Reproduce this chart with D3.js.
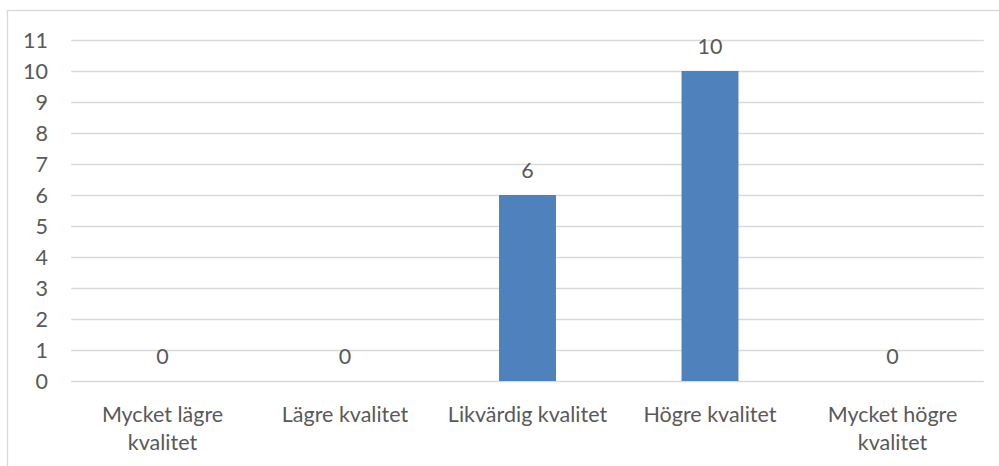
<!DOCTYPE html>
<html>
<head>
<meta charset="utf-8">
<script src="https://cdn.jsdelivr.net/npm/d3@7"></script>
<style>
  html, body { margin: 0; padding: 0; background: #ffffff; }
  svg { display: block; }
  text { font-family: Lato, "Noto Sans", sans-serif; fill: #595959; }
</style>
</head>
<body>
<svg id="chart" width="999" height="466"></svg>
<script>
// Survey answers: count per quality category
const categories = ["Mycket lägre kvalitet", "Lägre kvalitet", "Likvärdig kvalitet", "Högre kvalitet", "Mycket högre kvalitet"];
const counts = [0, 0, 6, 10, 0];
const yTicks = [0, 1, 2, 3, 4, 5, 6, 7, 8, 9, 10, 11];

const W = 999, H = 466;
const plot = { left: 71.25, right: 983.75, top: 40, bottom: 381 };
const fontSize = 21.5;

const svg = d3.select("#chart");

// Outer chart frame
svg.append("rect")
  .attr("x", 7.5).attr("y", 10.5)
  .attr("width", W + 10).attr("height", H + 10)
  .attr("fill", "#ffffff")
  .attr("stroke", "#d9d9d9")
  .attr("stroke-width", 1.3);

const x = d3.scaleBand()
  .domain(categories)
  .range([plot.left, plot.right])
  .paddingInner(0.688)
  .paddingOuter(0.344);

const y = d3.scaleLinear()
  .domain([0, 11])
  .range([plot.bottom, plot.top]);

// Horizontal gridlines
svg.append("g")
  .selectAll("line")
  .data(yTicks)
  .join("line")
  .attr("x1", plot.left).attr("x2", plot.right)
  .attr("y1", d => Math.round(y(d)) + 0.5)
  .attr("y2", d => Math.round(y(d)) + 0.5)
  .attr("stroke", "#d9d9d9")
  .attr("stroke-width", 1.3);

// Y axis labels
const yAxis = d3.axisLeft(y).tickValues(yTicks).tickSize(0).tickPadding(0);
const yg = svg.append("g")
  .attr("transform", `translate(${48},0)`)
  .call(yAxis);
yg.select(".domain").remove();
yg.selectAll("text")
  .attr("font-size", fontSize)
  .attr("font-family", null)
  .attr("dy", "0.35em")
  .style("fill", "#595959");

// Bars
svg.append("g")
  .selectAll("rect")
  .data(categories)
  .join("rect")
  .attr("x", d => x(d))
  .attr("width", x.bandwidth())
  .attr("y", (d, i) => y(counts[i]))
  .attr("height", (d, i) => y(0) - y(counts[i]))
  .attr("fill", "#4f81bd");

// Value labels above bars
svg.append("g")
  .selectAll("text")
  .data(categories)
  .join("text")
  .attr("x", d => x(d) + x.bandwidth() / 2)
  .attr("y", (d, i) => y(counts[i]) - 17)
  .attr("text-anchor", "middle")
  .attr("font-size", fontSize)
  .text((d, i) => counts[i]);

// X axis category labels, wrapped to the band step
const xAxis = d3.axisBottom(x).tickSize(0).tickPadding(0);
const xg = svg.append("g")
  .attr("transform", `translate(0,${plot.bottom})`)
  .call(xAxis);
xg.select(".domain").remove();
xg.selectAll("text")
  .attr("font-size", fontSize)
  .attr("font-family", null)
  .attr("y", 40.5)
  .attr("dy", 0)
  .style("fill", "#595959")
  .each(function (d) {
    const t = d3.select(this);
    const words = d.split(" ");
    const maxW = x.step() - 8;
    t.text(null);
    let line = [];
    let tspan = t.append("tspan").attr("x", 0).attr("dy", 0);
    words.forEach(w => {
      line.push(w);
      tspan.text(line.join(" "));
      if (tspan.node().getComputedTextLength() > maxW && line.length > 1) {
        line.pop();
        tspan.text(line.join(" "));
        line = [w];
        tspan = t.append("tspan").attr("x", 0).attr("dy", 28).text(w);
      }
    });
  });
</script>
</body>
</html>
